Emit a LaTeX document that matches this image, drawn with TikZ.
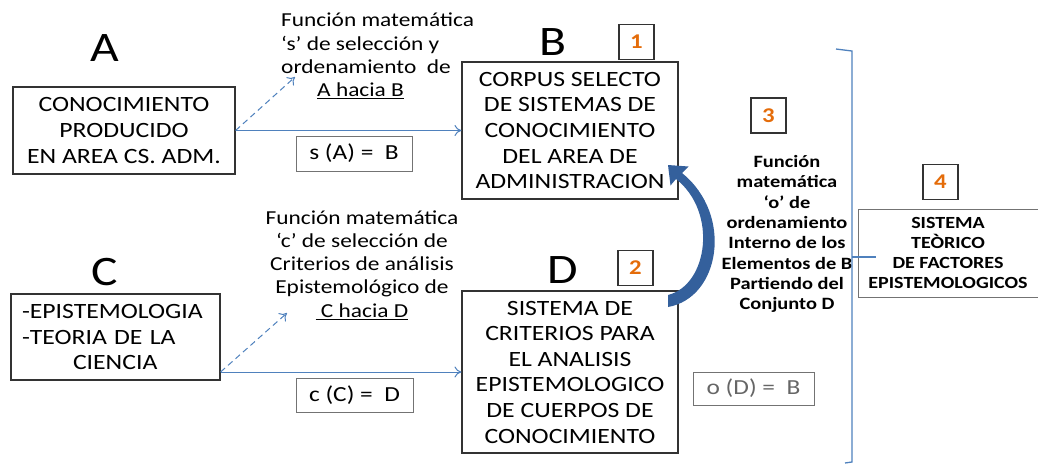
\documentclass[tikz,border=0pt]{standalone}
\usepackage{fontspec}
\setmainfont{Carlito}[FakeStretch=1.18]
\usetikzlibrary{arrows.meta}
\definecolor{lineblue}{RGB}{79,129,189}
\definecolor{arcblue}{RGB}{52,96,156}
\definecolor{numorange}{RGB}{228,108,10}
\tikzset{
  bigbox/.style={draw=black!80,line width=1.1pt,inner sep=0pt,align=center,font=\fontsize{21.8}{25.6}\selectfont},
  smallbox/.style={draw=black!55,line width=1pt,inner sep=0pt,font=\fontsize{21.5}{24}\selectfont},
  numbox/.style={draw=black!80,line width=1.1pt,inner sep=0pt,minimum width=35pt,minimum height=35pt,text=numorange,font=\bfseries\fontsize{21}{22}\selectfont},
  bigletter/.style={inner sep=0pt,font=\fontsize{42}{44}\selectfont},
  functext/.style={inner sep=0pt,font=\fontsize{19.8}{23.2}\selectfont},
  thinarrow/.style={draw=lineblue,line width=1pt,-{To[length=7pt,width=11pt]}},
  dasharrow/.style={thinarrow,dash pattern=on 6pt off 4pt},
  bracel/.style={draw=lineblue,line width=1.3pt},
  arcfill/.style={fill=arcblue}
}
\begin{document}
\begin{tikzpicture}[x=1pt,y=-1pt]
\useasboundingbox (0,0) rectangle (1038,464);
% letters
\node[bigletter] (LA) at (105,48) {A};
\node[bigletter] (LB) at (553,42) {B};
\node[bigletter] (LC) at (105,272) {C};
\node[bigletter] (LD) at (563,270) {D};
% main boxes
\node[bigbox,minimum width=222pt,minimum height=87pt] (A) at (124,130.5)
  {CONOCIMIENTO\\PRODUCIDO\\EN AREA CS. ADM.};
\node[bigbox,minimum width=216pt,minimum height=137pt] (B) at (570,130.5)
  {CORPUS SELECTO\\DE SISTEMAS DE\\CONOCIMIENTO\\DEL AREA DE\\ADMINISTRACION};
\node[bigbox,minimum width=209pt,minimum height=86pt,text width=187pt,align=left] (C) at (115.5,337)
  {-EPISTEMOLOGIA\\-TEORIA DE LA\\\hspace*{51pt}CIENCIA};
\node[bigbox,minimum width=216pt,minimum height=162pt] (D) at (570,372)
  {SISTEMA DE\\CRITERIOS PARA\\EL ANALISIS\\EPISTEMOLOGICO\\DE CUERPOS DE\\CONOCIMIENTO};
\node[draw=black!55,line width=1pt,inner sep=0pt,minimum width=180pt,minimum height=88pt,align=center,
  font=\bfseries\fontsize{17}{20.3}\selectfont] (S) at (948,253)
  {SISTEMA\\TEÒRICO\\DE FACTORES\\EPISTEMOLOGICOS};
% small formula boxes
\node[smallbox,minimum width=116pt,minimum height=35pt] (sA) at (354,153.5) {s (A) =\ \ B};
\node[smallbox,minimum width=117pt,minimum height=34pt] (cC) at (354.5,395) {c (C) =\ \ D};
\node[smallbox,minimum width=121pt,minimum height=33pt,text=black!60] (oD) at (753.5,388.5) {o (D) =\ \ B};
% number boxes
\node[numbox] (n1) at (636.5,42) {1};
\node[numbox] (n2) at (635.5,268) {2};
\node[numbox] (n3) at (768.5,115.5) {3};
\node[numbox] (n4) at (940.5,182) {4};
% function texts
\node[functext,anchor=west,align=left] (fs) at (281,56)
  {Función matemática\\‘s’ de selección y\\ordenamiento\ \ de\\\hspace*{36pt}\underline{A hacia B}};
\node[functext,align=center] (fc) at (362,265)
  {Función matemática\\‘c’ de selección de\\Criterios de análisis\\Epistemológico de\\\underline{\ C hacia D}};
\node[inner sep=0pt,align=center,font=\bfseries\fontsize{17.3}{20.3}\selectfont] (fo) at (787,234)
  {Función\\matemática\\‘o’ de\\ordenamiento\\Interno de los\\Elementos de B\\Partiendo del\\Conjunto D};
% connectors
\coordinate (dsA) at (295,77);
\coordinate (dcC) at (287,313);
\draw[thinarrow] (A.east) -- (A.east -| B.west);
\draw[dasharrow] (A.east) -- (dsA);
\draw[thinarrow] ([yshift=-35pt]C.east) -- ([yshift=-35pt]C.east -| D.west);
\draw[dasharrow] ([yshift=-35pt]C.east) -- (dcC);
% curved block arrow from D to B
\coordinate (arcTip) at (668,165);
\fill[arcfill] (668,307) .. controls (720,298) and (734,215) .. (682,173)
  -- (688.5,166.5) -- (arcTip) -- (670.5,185.5) -- (676,179)
  .. controls (718,212) and (708,285) .. (668,295) -- cycle;
% brace
\coordinate (br1) at (836,49);
\coordinate (br2) at (852,51);
\coordinate (br3) at (852,462);
\coordinate (br4) at (845,463);
\coordinate (brm) at (852,257);
\coordinate (brt) at (876,257);
\draw[bracel] (br1) -- (br2) -- (br3) -- (br4);
\draw[bracel] (brm) -- (brt);
\end{tikzpicture}
\end{document}
